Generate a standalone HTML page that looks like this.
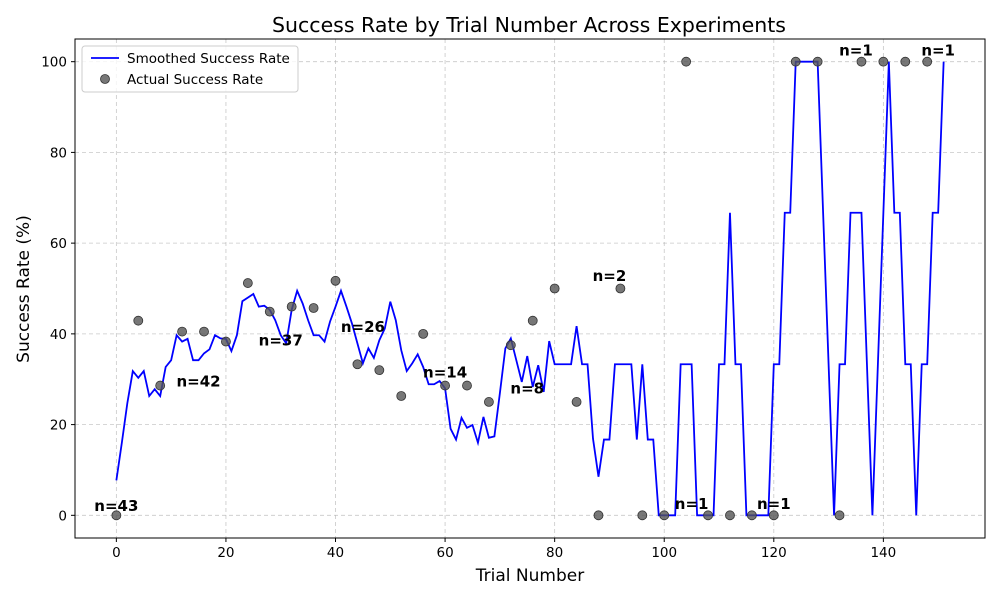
<!DOCTYPE html>
<html><head><meta charset="utf-8"><style>
html,body{margin:0;padding:0;background:#fff;}
svg{display:block;font-family:"DejaVu Sans","Liberation Sans",sans-serif;}
</style></head><body>
<svg id="chart" width="1000" height="600" viewBox="0 0 1000 600">
<rect x="0" y="0" width="1000" height="600" fill="#fff"/>
<text x="529" y="32" font-size="20.5" text-anchor="middle" fill="#000">Success Rate by Trial Number Across Experiments</text>
<g id="grid"></g>
<g id="plot"></g>
<g id="ticks"></g>
<rect x="75" y="39" width="910" height="499" fill="none" stroke="#000" stroke-width="1"/>
<text x="530" y="581" font-size="17" text-anchor="middle">Trial Number</text>
<text x="29" y="289" font-size="17" text-anchor="middle" transform="rotate(-90 29 289)">Success Rate (%)</text>
<g>
<rect x="82" y="46" width="216" height="46" rx="3" fill="#fff" fill-opacity="0.8" stroke="#ccc"/>
<g>
<line x1="91" y1="58" x2="119" y2="58" stroke="#0000ff" stroke-width="1.8"/>
<text x="127" y="63" font-size="13.5">Smoothed Success Rate</text>
</g>
<g>
<circle cx="105" cy="79" r="4.5" fill="#555" fill-opacity="0.8" stroke="#333" stroke-width="0.8"/>
<text x="127" y="84" font-size="13.5">Actual Success Rate</text>
</g>
</g>
</svg>
<script>
const smoothed = [7.7,16,24.7,31.8,30.3,31.8,26.3,27.8,26.3,32.7,34.2,39.7,38.3,38.9,34.2,34.2,35.7,36.6,39.7,39,38.9,36.2,39.7,47.2,48,48.8,46,46.2,45.3,43,39.7,37.9,45.3,49.5,46.7,43,39.7,39.7,38.3,42.7,46,49.5,46,42.3,37.9,33.5,36.8,34.7,38.6,41.2,47.1,43,36.4,31.8,33.5,35.5,32.7,28.9,28.9,29.6,28,19.1,16.7,21.5,19.3,19.9,16,21.7,17.1,17.4,26.9,36.8,39,34.2,29.4,35.1,28.3,33.1,27.2,38.4,33.3,33.3,33.3,33.3,41.7,33.3,33.3,16.9,8.5,16.7,16.7,33.3,33.3,33.3,33.3,16.7,33.3,16.7,16.7,0,0,0,0,33.3,33.3,33.3,0,0,0,0,33.3,33.3,66.7,33.3,33.3,0,0,0,0,0,33.3,33.3,66.7,66.7,100,100,100,100,100,66.7,33.3,0,33.3,33.3,66.7,66.7,66.7,33.3,0,33.3,66.7,100,66.7,66.7,33.3,33.3,0,33.3,33.3,66.7,66.7,100];
const actualTrials = [0,4,8,12,16,20,24,28,32,36,40,44,48,52,56,60,64,68,72,76,80,84,88,92,96,100,104,108,112,116,120,124,128,132,136,140,144,148];
const actualValues = [0,42.9,28.6,40.5,40.5,38.3,51.2,44.9,46,45.7,51.7,33.3,32,26.3,40,28.6,28.6,25,37.5,42.9,50,25,0,50,0,0,100,0,0,0,0,100,100,0,100,100,100,100];
const annotTrials = [0,15,30,45,60,75,90,105,120,135,150];
const annotY = [2,29.5,38.5,41.5,31.5,28,52.8,2.5,2.5,102.5,102.5];
const annotLabels = ["n=43","n=42","n=37","n=26","n=14","n=8","n=2","n=1","n=1","n=1","n=1"];
const xTicks = [0,20,40,60,80,100,120,140];
const yTicks = [0,20,40,60,80,100];

const X0=75,X1=985,Y0=538,Y1=39,xmin=-7.55,xmax=158.55,ymin=-5,ymax=105;
const sx=v=>X0+(v-xmin)/(xmax-xmin)*(X1-X0);
const sy=v=>Y0-(v-ymin)/(ymax-ymin)*(Y0-Y1);
const NS="http://www.w3.org/2000/svg";
function mk(tag,attrs,parent){const e=document.createElementNS(NS,tag);for(const k in attrs)e.setAttribute(k,attrs[k]);parent.appendChild(e);return e;}
const grid=document.getElementById('grid'),plot=document.getElementById('plot'),ticks=document.getElementById('ticks');
xTicks.forEach(t=>{
  const g=mk('line',{x1:sx(t),x2:sx(t),y1:Y1,y2:Y0,stroke:'#b0b0b0','stroke-width':0.8,'stroke-dasharray':'4,3','stroke-opacity':0.7},grid);
  
  
  const tk=mk('line',{x1:sx(t),x2:sx(t),y1:Y0,y2:Y0+4,stroke:'#000'},ticks);
  
  
  const tx=mk('text',{x:sx(t),y:Y0+19,'font-size':13.5,'text-anchor':'middle'},ticks);
  tx.textContent=t;
  
  
});
yTicks.forEach(t=>{
  const g=mk('line',{x1:X0,x2:X1,y1:sy(t),y2:sy(t),stroke:'#b0b0b0','stroke-width':0.8,'stroke-dasharray':'4,3','stroke-opacity':0.7},grid);
  
  
  const tk=mk('line',{x1:X0-4,x2:X0,y1:sy(t),y2:sy(t),stroke:'#000'},ticks);
  
  
  const tx=mk('text',{x:X0-8,y:sy(t)+5,'font-size':13.5,'text-anchor':'end'},ticks);
  tx.textContent=t;
  
  
});
const pts=smoothed.map((v,i)=>sx(i).toFixed(2)+','+sy(v).toFixed(2)).join(' ');
const line=mk('polyline',{points:pts,fill:'none',stroke:'#0000ff','stroke-width':1.8,'stroke-linejoin':'miter'},plot);


actualTrials.forEach((t,i)=>{
  const c=mk('circle',{cx:sx(t),cy:sy(actualValues[i]),r:4.5,fill:'#555','fill-opacity':0.8,stroke:'#333','stroke-width':0.8},plot);
  
  
});
annotTrials.forEach((t,i)=>{
  const tx=mk('text',{x:sx(t),y:sy(annotY[i])+5,'font-size':15,'font-weight':'bold','text-anchor':'middle'},plot);
  tx.textContent=annotLabels[i];
  
  
});
</script>
</body></html>
